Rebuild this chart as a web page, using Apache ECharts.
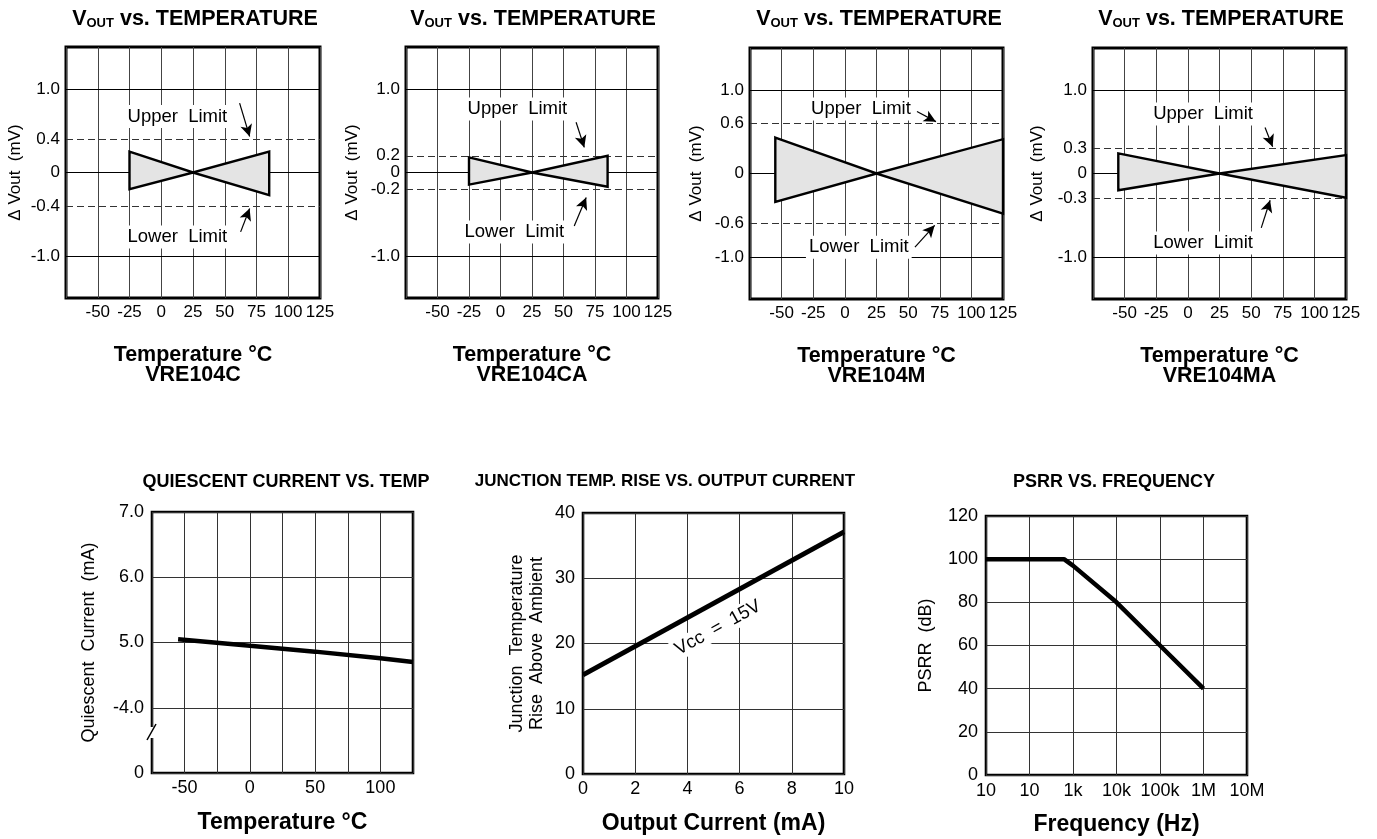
<!DOCTYPE html>
<html><head><meta charset="utf-8">
<script src="https://cdn.jsdelivr.net/npm/echarts@6/dist/echarts.min.js"></script>
<style>html,body{margin:0;padding:0;background:#fff}#c{width:1377px;height:839px}</style>
</head><body><div id="c"></div>
<script>
const FONT = '"Liberation Sans", Arial, Helvetica, sans-serif';

// ---------- Top row : VOUT vs. TEMPERATURE ----------
const models = ['VRE104C', 'VRE104CA', 'VRE104M', 'VRE104MA'];
const tempTicks = [-50, -25, 0, 25, 50, 75, 100, 125];
const tempTickLabels = ['-50', '-25', '0', '25', '50', '75', '100', '125'];
const voutLimits = [0.4, 0.2, 0.6, 0.3];
const voutYTicks = [[1, 0.4, 0, -0.4, -1], [1, 0.2, 0, -0.2, -1], [1, 0.6, 0, -0.6, -1], [1, 0.3, 0, -0.3, -1]];
const voutYTickLabels = [['1.0', '0.4', '0', '-0.4', '-1.0'], ['1.0', '0.2', '0', '-0.2', '-1.0'],
                         ['1.0', '0.6', '0', '-0.6', '-1.0'], ['1.0', '0.3', '0', '-0.3', '-1.0']];
const voutSolidLines = [1, 0, -1];
// butterfly envelopes (temperature, upper, lower) per model
const bfTemps = [[-25, 25, 85], [-25, 25, 85], [-55, 25, 125], [-55, 25, 125]];
const bfUpper = [[0.25, 0, 0.25], [0.18, 0, 0.2], [0.43, 0, 0.41], [0.24, 0, 0.22]];
const bfLower = [[-0.2, 0, -0.27], [-0.145, 0, -0.17], [-0.34, 0, -0.48], [-0.2, 0, -0.29]];

// ---------- Bottom row ----------
const qcTemps = [-55, 0, 50, 100, 125];
const qcCurrent = [5.05, 4.95, 4.86, 4.76, 4.70];
const qcXTicks = [-50, 0, 50, 100];
const qcXTickLabels = ['-50', '0', '50', '100'];
const qcYTicks = [3, 4, 5, 6, 7];
const qcYTickLabels = ['0', '-4.0', '5.0', '6.0', '7.0'];

const jtCurrent = [0, 10];
const jtRise = [15.2, 37.1];

const psrrFreq = [10, 620, 1000, 10000, 100000, 1000000];
const psrrDb = [100, 100, 97, 80, 60, 40];
const freqTicks = [10, 100, 1000, 1e4, 1e5, 1e6, 1e7];
const freqTickLabels = ['10', '10', '1k', '10k', '100k', '1M', '10M'];

// ---------- layout / annotation config ----------
const topGrids = [[66, 47, 254, 251], [406, 47, 252, 251], [750, 48, 253, 251], [1093, 48, 253, 251]];
const topTitleX = [195, 533, 879, 1221];
const yNameGaps = [42, 45, 45, 47];
const annots = [
  { up: [12.7, 0.67], upArrow: [[61.7, 0.83], [69.6, 0.43]], lo: [12.7, -0.77], loArrow: [[62.5, -0.71], [69.6, -0.43]] },
  { up: [13.4, 0.76], upArrow: [[60, 0.6], [66.5, 0.3]], lo: [11, -0.71], loArrow: [[58.5, -0.64], [68, -0.3]] },
  { up: [12.7, 0.77], upArrow: [[57, 0.74], [72, 0.62]], lo: [11, -0.88], loArrow: [[55.4, -0.88], [71, -0.62]] },
  { up: [12, 0.71], upArrow: [[61, 0.55], [67, 0.32]], lo: [12, -0.83], loArrow: [[58, -0.65], [65, -0.32]] }
];

const near = (a, b) => Math.abs(a - b) < 1e-6;
const labelFrom = (ticks, labels) => v => { const i = ticks.findIndex(t => near(t, v)); return i < 0 ? '' : labels[i]; };
const txt = (size, bold, extra) => Object.assign({ fontFamily: FONT, fontSize: size, fontWeight: bold ? 'bold' : 'normal', color: '#000' }, extra || {});

const grid = [], xAxis = [], yAxis = [], series = [], title = [];

for (let k = 0; k < 4; k++) {
  const [l, t, w, h] = topGrids[k];
  grid.push({ left: l, top: t, width: w, height: h, show: true, borderColor: '#000', borderWidth: 3,
              backgroundColor: 'transparent', containLabel: false, outerBoundsMode: 'none' });
  xAxis.push({ gridIndex: k, type: 'value', min: -75, max: 125, interval: 25,
    name: 'Temperature °C\n' + models[k], nameLocation: 'middle', nameGap: 47,
    nameTextStyle: txt(21.5, true, { lineHeight: 20 }),
    axisLine: { show: false }, axisTick: { show: false },
    axisLabel: Object.assign({ formatter: labelFrom(tempTicks, tempTickLabels), margin: 6 }, txt(17)),
    splitLine: { show: true, lineStyle: { color: '#444', width: 1 } } });
  yAxis.push({ gridIndex: k, type: 'value', min: -1.5, max: 1.5, interval: 0.1,
    name: 'Δ Vout  (mV)', nameLocation: 'middle', nameRotate: 90, nameGap: yNameGaps[k],
    nameTextStyle: txt(17),
    axisLine: { show: false }, axisTick: { show: false }, splitLine: { show: false },
    axisLabel: Object.assign({ formatter: labelFrom(voutYTicks[k], voutYTickLabels[k]), margin: 6 }, txt(17)) });

  const a = annots[k];
  const mlData = [];
  voutSolidLines.forEach(v => mlData.push({ yAxis: v, lineStyle: { type: 'solid', color: '#000', width: 1 } }));
  [voutLimits[k], -voutLimits[k]].forEach(v => mlData.push({ yAxis: v, lineStyle: { type: [7, 4], color: '#333', width: 1 } }));
  [a.upArrow, a.loArrow].forEach(ar => mlData.push([
    { coord: ar[0], symbol: 'none', lineStyle: { type: 'solid', color: '#000', width: 1.2 } },
    { coord: ar[1], symbol: 'arrow' }]));
  series.push({ type: 'line', xAxisIndex: k, yAxisIndex: k, data: [], z: 2, silent: true,
    markLine: { z: 2, silent: true, symbol: ['none', 'none'], symbolSize: [9, 12], label: { show: false },
                emphasis: { disabled: true }, animation: false, data: mlData },
    markPoint: { z: 3, silent: true, symbol: 'circle', symbolSize: 0, animation: false,
      label: Object.assign({ show: true, position: 'inside', formatter: p => p.name,
                             backgroundColor: '#fff', padding: [2, 3] }, txt(18.5)),
      data: [{ name: 'Upper  Limit', coord: a.up }, { name: 'Lower  Limit', coord: a.lo }] } });

  const bfData = bfTemps[k].map((tt, i) => [tt, bfUpper[k][i], bfLower[k][i]]);
  series.push({ type: 'custom', xAxisIndex: k, yAxisIndex: k, z: 10, silent: true, data: bfData,
    encode: { x: 0, y: [1, 2] },
    renderItem: (params, api) => {
      if (params.dataIndex !== 0) return null;
      const pts = [];
      for (let j = 0; j < bfData.length; j++) pts.push(api.coord([bfData[j][0], bfData[j][1]]));
      for (let j = bfData.length - 1; j >= 0; j--) pts.push(api.coord([bfData[j][0], bfData[j][2]]));
      return { type: 'polygon', shape: { points: pts },
               style: { fill: '#e4e4e4', stroke: '#000', lineWidth: 2.4, lineJoin: 'miter' } };
    } });

  title.push({ text: '{v|V}{s|OUT}{v| vs. TEMPERATURE}', left: topTitleX[k], top: 8, textAlign: 'center', padding: 0,
    textStyle: { rich: {
      v: txt(21.5, true, { lineHeight: 22, verticalAlign: 'top' }),
      s: txt(13, true, { lineHeight: 13, padding: [9, 0, 0, 0], verticalAlign: 'bottom' }) } } });
}

// ---- bottom grids ----
const botGrids = [[152, 512, 261, 261], [583, 513, 261, 261], [986, 516, 261, 259]];
botGrids.forEach(([l, t, w, h]) => grid.push({ left: l, top: t, width: w, height: h, show: true, borderColor: '#000',
  borderWidth: 2.6, backgroundColor: 'transparent', containLabel: false, outerBoundsMode: 'none' }));

const split = { show: true, lineStyle: { color: '#333', width: 1 } };
const botX = (gi, extra) => Object.assign({ gridIndex: gi, nameLocation: 'middle', nameGap: 38,
  nameTextStyle: txt(23, true), axisLine: { show: false }, axisTick: { show: false }, splitLine: split }, extra);
const botY = (gi, extra) => Object.assign({ gridIndex: gi, type: 'value', nameLocation: 'middle', nameRotate: 90,
  nameTextStyle: txt(18, false, { lineHeight: 20 }), axisLine: { show: false }, axisTick: { show: false }, splitLine: split }, extra);

// Quiescent current
xAxis.push(botX(4, { type: 'value', min: -75, max: 125, interval: 25, name: 'Temperature °C',
  axisLabel: Object.assign({ formatter: labelFrom(qcXTicks, qcXTickLabels), margin: 6 }, txt(18)) }));
yAxis.push(botY(4, { min: 3, max: 7, interval: 1, name: 'Quiescent  Current  (mA)', nameGap: 53,
  axisLabel: Object.assign({ formatter: labelFrom(qcYTicks, qcYTickLabels), margin: 8 }, txt(18)) }));
series.push({ type: 'line', xAxisIndex: 4, yAxisIndex: 4, z: 5, showSymbol: false, silent: true,
  data: qcTemps.map((t, i) => [t, qcCurrent[i]]), lineStyle: { color: '#000', width: 4.5 } });

// Junction temperature rise
xAxis.push(botX(5, { type: 'value', min: 0, max: 10, interval: 2, name: 'Output Current (mA)',
  axisLabel: Object.assign({ margin: 6 }, txt(18)) }));
yAxis.push(botY(5, { min: 0, max: 40, interval: 10, name: 'Junction  Temperature\nRise  Above  Ambient', nameGap: 36,
  axisLabel: Object.assign({ margin: 8 }, txt(18)) }));
series.push({ type: 'line', xAxisIndex: 5, yAxisIndex: 5, z: 5, showSymbol: false, silent: true,
  data: jtCurrent.map((c, i) => [c, jtRise[i]]), lineStyle: { color: '#000', width: 5 },
  markPoint: { z: 6, silent: true, symbol: 'circle', symbolSize: 0, animation: false,
    label: Object.assign({ show: true, position: 'inside', rotate: 29, formatter: p => p.name,
                           backgroundColor: '#fff', padding: [1, 4] }, txt(18.5)),
    data: [{ name: 'Vcc  =  15V', coord: [5.17, 22.4] }] } });

// PSRR
xAxis.push(botX(6, { type: 'log', logBase: 10, min: 10, max: 1e7, splitNumber: 6, name: 'Frequency (Hz)',
  axisLabel: Object.assign({ margin: 7, formatter: v => { const i = freqTicks.findIndex(t => Math.abs(Math.log10(t) - Math.log10(v)) < 1e-6); return i < 0 ? '' : freqTickLabels[i]; } }, txt(18)),
  minorSplitLine: { show: false } }));
yAxis.push(botY(6, { min: 0, max: 120, interval: 20, name: 'PSRR  (dB)', nameGap: 50,
  axisLabel: Object.assign({ margin: 8 }, txt(18)) }));
series.push({ type: 'line', xAxisIndex: 6, yAxisIndex: 6, z: 5, showSymbol: false, silent: true,
  data: psrrFreq.map((f, i) => [f, psrrDb[i]]), lineStyle: { color: '#000', width: 4.5 } });

title.push({ text: 'QUIESCENT CURRENT VS. TEMP', left: 286, top: 473, textAlign: 'center', padding: 0, textStyle: txt(18, true) });
title.push({ text: 'JUNCTION TEMP. RISE VS. OUTPUT CURRENT', left: 665, top: 473, textAlign: 'center', padding: 0, textStyle: txt(17, true) });
title.push({ text: 'PSRR VS. FREQUENCY', left: 1114, top: 473, textAlign: 'center', padding: 0, textStyle: txt(18, true) });

const chart = echarts.init(document.getElementById('c'));
chart.setOption({
  backgroundColor: '#fff', animation: false,
  title, grid, xAxis, yAxis, series,
  graphic: [
    { type: 'rect', shape: { x: 149, y: 727, width: 7, height: 11 }, style: { fill: '#fff' }, z: 100 },
    { type: 'line', shape: { x1: 147, y1: 740, x2: 156, y2: 724 }, style: { stroke: '#000', lineWidth: 1.5 }, z: 101 }
  ]
});
</script>
</body></html>
